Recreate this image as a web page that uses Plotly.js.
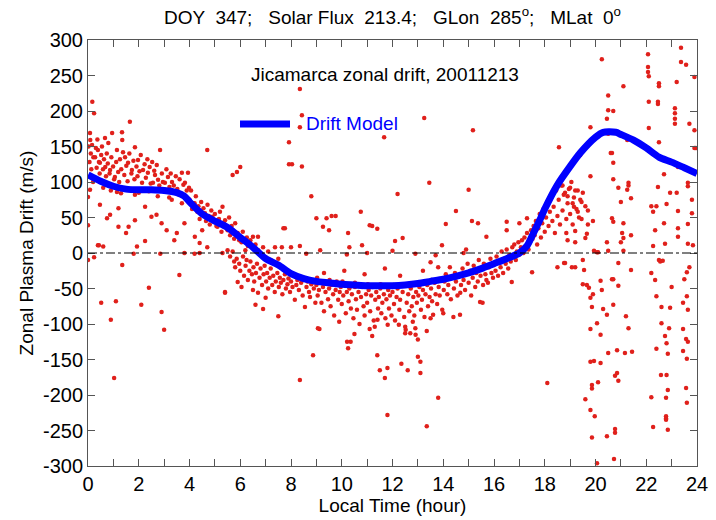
<!DOCTYPE html>
<html>
<head>
<meta charset="utf-8">
<script src="https://cdn.plot.ly/plotly-3.0.1.min.js"></script>
<style>html,body{margin:0;padding:0;background:#fff;}#chart{width:716px;height:520px;}</style>
</head>
<body>
<div id="chart"></div>
<script>
// Drift model curve
const modelHour = [0,0.5,1,1.5,2,2.5,3,3.5,3.8,4,4.5,5,5.5,6,6.5,7,7.5,8,8.5,9,9.5,10,10.5,11,11.5,12,12.5,13,13.5,14,14.5,15,15.5,16,16.5,17,17.3,17.5,17.8,18,18.5,19,19.4,20,20.3,20.8,21,21.5,22,22.5,23,23.5,24];
const modelDrift = [110,101,94,90,89,89,88,85,80,72,55,45,36,22,8,-8,-17,-29,-36,-40,-42,-44,-45,-46,-46,-46,-45,-43,-40,-37,-33,-28,-22,-15,-8,0,10,24,46,62,96,122,141,163,170,170,167,159,148,135,128,120,112];

// Observations, 0-4 h upper band
const hourA = [0.02,0.06,0.08,0.09,0.11,0.13,0.16,0.17,0.21,0.24,0.27,0.28,0.31,0.34,0.37,0.39,0.43,0.46,0.47,0.52,0.55,0.59,0.63,0.67,0.68,0.71,0.74,0.78,0.8,0.85,0.87,0.92,0.95,0.99,1.03,1.06,1.11,1.14,1.19,1.23,1.26,1.31,1.34,1.35,1.38,1.43,1.46,1.51,1.56,1.58,1.63,1.65,1.71,1.73,1.79,1.83,1.85,1.91,1.95,1.97,2.03,2.08,2.13,2.17,2.23,2.28,2.34,2.36,2.43,2.47,2.53,2.56,2.61,2.64,2.71,2.76,2.81,2.84,2.91,2.95,3.03,3.09,3.15,3.21,3.26,3.31,3.38,3.46,3.52,3.61,3.7,3.76,3.82,3.89,3.94,3.98];
const driftA = [150,128,169,159,140,118,152,213,135,197,105,135,148,120,160,145,128,112,127,138,150,118,132,162,121,108,140,126,155,112,117,135,169,122,104,107,128,145,114,100,132,118,170,159,142,110,135,123,101,127,140,185,112,117,130,104,149,122,108,131,115,138,99,117,125,106,132,113,121,98,128,99,116,110,124,103,95,145,112,100,99,118,107,93,112,100,95,108,90,104,113,96,99,88,113,92];

// 0-5.5 h near the curve and below
const hourB = [0.0,0.08,0.0,0.2,0.39,0.43,0.47,0.6,0.6,0.75,0.87,0.9,1.14,1.2,1.2,1.3,1.5,1.6,1.7,1.85,1.85,2.0,2.25,2.4,2.5,2.7,2.75,2.9,3.03,3.1,3.2,3.3,3.4,3.5,3.6,3.7,3.8,3.9,0.0,0.24,0.52,0.9,1.03,1.1,1.35,1.8,1.93,2.1,2.25,2.4,2.85,2.9,3.0,3.6,3.8,4.2,4.4,4.4,4.7,5.3,5.4,5.4,5.5];
const driftB = [79,89,39,100,11,11,68,9,92,49,54,88,86,37,63,84,28,37,90,82,46,85,65,87,51,54,80,42,89,32,78,75,18,28,82,70,42,76,-10,-6,-70,-94,-176,-68,-17,-1,9,-73,17,-49,-1,-83,-108,-31,0,-1,0,14,8,0,-56,-55,4];

// 4-8 h around the curve
const hourC = [4.0,4.06,4.1,4.16,4.2,4.21,4.25,4.31,4.35,4.4,4.46,4.5,4.52,4.55,4.61,4.65,4.7,4.71,4.76,4.8,4.86,4.9,4.96,5.0,5.06,5.1,5.16,5.2,5.26,5.3,5.36,5.4,5.46,5.5,5.56,5.6,5.66,5.7,5.7,5.76,5.8,5.87,5.9,5.96,6.0,6.05,6.1,6.2,6.26,6.3,6.4,6.5,6.56,6.6,6.7,6.71,6.8,6.9,7.0,7.1,7.2,7.37,7.5,7.64,7.76,7.7,7.92,7.92];
const driftC = [75,88,62,70,70,23,80,58,66,48,72,32,56,63,56,45,145,68,52,40,60,51,44,55,38,37,48,58,30,65,42,46,35,32,50,25,38,32,110,20,42,114,28,18,121,15,30,4,22,10,18,23,5,12,23,4,-2,8,-6,2,-10,8,-8,8,35,35,156,125];

// 5.5-9 h below the curve
const hourD = [5.6,5.7,5.76,5.8,5.86,5.9,5.96,6.0,6.05,6.11,6.15,6.21,6.25,6.3,6.36,6.4,6.46,6.5,6.52,6.55,6.6,6.62,6.66,6.7,6.76,6.8,6.86,6.9,6.92,6.96,7.0,7.02,7.06,7.1,7.16,7.2,7.26,7.3,7.36,7.4,7.46,7.5,7.52,7.56,7.6,7.66,7.7,7.76,7.8,7.86,7.9,7.96,8.0,8.06,8.1,8.15,8.21,8.25,8.31,8.35,8.4,8.46,8.5,8.55,8.61,8.65,8.71,8.75,8.8,8.87,8.9,8.96];
const driftD = [-5,2,-12,-20,-8,-41,-15,-25,-48,-5,-32,-18,-10,-38,-25,-12,-30,-52,-20,-40,-73,-28,-15,-56,-35,-22,-45,-79,-30,-18,-63,-40,-28,-50,-35,-22,-45,-32,-55,-40,-28,-89,-48,-35,-42,-58,-38,-30,-50,-44,-36,-55,-40,-48,-32,-66,-45,-38,-52,-179,-42,-60,-35,-76,-48,-40,-55,-62,-44,-144,-50,-70];

// scattered points above the curve, 8-18.6 h
const hourE = [8.35,8.43,8.35,8.04,8.43,8.8,9.0,9.26,9.4,9.6,9.76,9.5,10.25,10.75,11.2,11.4,11.67,12.2,13.25,13.45,14.1,14.5,15.0,15.17,15.13,15.37,15.7,16.5,16.5,17.0,17.3,18.56,11.1,12.4,12.1,8.35,9.15,10.3,10.8,11.0,12.0,12.9,13.5,13.7,13.95,14.8,14.9,10.2,8.6,8.0];
const driftE = [231,194,177,125,122,80,49,37,49,52,52,32,28,58,38,34,163,83,190,99,41,59,89,173,45,42,23,44,32,42,49,149,39,21,17,10,4,8,11,0,3,-1,-13,-3,11,0,5,-2,-1,8];

// 9-14 h dense band
const hourF = [9.0,9.05,9.06,9.1,9.12,9.15,9.2,9.26,9.3,9.36,9.4,9.46,9.5,9.56,9.6,9.66,9.7,9.76,9.8,9.86,9.9,9.92,9.96,10.0,10.06,10.1,10.16,10.2,10.21,10.25,10.27,10.3,10.35,10.36,10.4,10.46,10.5,10.52,10.56,10.6,10.66,10.7,10.76,10.8,10.86,10.9,10.96,11.0,11.06,11.1,11.12,11.16,11.2,11.22,11.26,11.3,11.32,11.36,11.4,11.41,11.43,11.46,11.5,11.52,11.56,11.6,11.66,11.7,11.72,11.76,11.8,11.8,11.81,11.83,11.86,11.9,11.96,12.0,12.06,12.1,12.16,12.2,12.25,12.27,12.3,12.35,12.4,12.46,12.5,12.5,12.52,12.56,12.6,12.62,12.66,12.7,12.72,12.76,12.8,12.82,12.86,12.9,12.91,12.93,12.96,13.0,13.0,13.02,13.06,13.1,13.1,13.12,13.16,13.2,13.26,13.3,13.35,13.35,13.37,13.4,13.46,13.5,13.52,13.56,13.6,13.66,13.7,13.76,13.8,13.82,13.86,13.9,13.96,14.0,14.02,9.03,9.52,10.03,10.52,11.03,11.53,12.03,12.53,13.03,13.53,9.3,10.1,10.9,11.7,12.3,13.2,13.8];
const driftF = [-45,-60,-106,-52,-107,-40,-70,-48,-82,-55,-42,-65,-50,-75,-45,-58,-88,-52,-40,-66,-97,-55,-48,-72,-60,-45,-85,-55,-125,-134,-68,-50,-125,-78,-58,-92,-114,-48,-65,-80,-55,-100,-62,-48,-75,-88,-58,-70,-52,-107,-82,-60,-117,-48,-95,-104,-66,-55,-144,-94,-78,-62,-165,-50,-85,-70,-58,-176,-92,-65,-162,-228,-101,-52,-78,-60,-88,-55,-72,-95,-62,-50,-101,-80,-66,-156,-55,-90,-104,-113,-108,-70,-165,-58,-82,-113,-50,-75,-97,-62,-88,-106,-115,-55,-70,-122,-146,-60,-48,-153,-169,-80,-66,-52,-90,-58,-110,-244,-45,-75,-62,-92,-50,-68,-87,-42,-58,-72,-204,-48,-60,-38,-80,-85,-52,-35,-38,-40,-42,-44,-44,-45,-44,-42,-38,-28,-25,-30,-22,-32,-25,-20];

// 14-17.6 h
const hourG = [14.05,14.1,14.16,14.2,14.26,14.3,14.36,14.4,14.42,14.46,14.5,14.56,14.6,14.66,14.67,14.7,14.76,14.8,14.86,14.9,14.96,15.0,15.06,15.1,15.16,15.2,15.26,15.3,15.36,15.4,15.45,15.47,15.5,15.55,15.57,15.6,15.66,15.7,15.76,15.8,15.86,15.9,15.96,16.0,16.06,16.1,16.16,16.2,16.26,16.3,16.36,16.4,16.46,16.5,16.56,16.6,16.66,16.7,16.72,16.76,16.8,16.86,16.9,16.96,17.0,17.06,17.1,17.16,17.2,17.26,17.3,17.36,17.4,17.46,17.5,17.52,17.56];
const driftG = [-40,-30,-58,-45,-20,-65,-35,-90,-50,-28,-40,-60,-32,-87,-56,-45,-22,-38,-52,-30,-15,-42,-25,-60,-35,-18,-48,-28,-40,-10,-69,-32,-22,-70,-45,-15,-30,-38,-42,-20,-8,-28,-35,-15,-25,-5,-32,-12,-20,2,-28,-8,-15,5,-22,-3,-12,-41,8,-5,12,-10,2,15,-2,8,18,0,22,10,28,5,15,32,-27,20,38];

// 17.6-21.5 h
const hourH = [17.6,17.65,17.7,17.75,17.8,17.85,17.9,17.95,18.0,18.05,18.1,18.1,18.15,18.2,18.25,18.3,18.35,18.4,18.45,18.5,18.5,18.55,18.6,18.65,18.7,18.75,18.76,18.8,18.85,18.85,18.9,18.9,18.95,19.0,19.05,19.07,19.1,19.15,19.2,19.2,19.2,19.25,19.3,19.35,19.4,19.45,19.5,19.5,19.55,19.6,19.6,19.66,19.66,19.7,19.74,19.8,19.8,19.8,19.8,19.8,19.8,19.86,19.86,19.86,19.86,19.9,19.9,19.94,19.94,19.97,20.06,20.06,20.06,20.1,20.1,20.2,20.2,20.2,20.25,20.25,20.3,20.45,20.45,20.45,20.45,20.5,20.5,20.5,20.5,20.5,20.6,20.65,20.65,20.65,20.7,20.7,20.7,20.7,20.7,20.7,20.73,20.77,20.77,20.77,20.85,20.85,20.9,20.9,20.9,20.9,21.0,21.0,21.05,21.1,21.1,21.1,21.1,21.16,21.2,21.25,21.25,21.3,21.3,21.3,21.4,21.4,21.4,21.44,18.6,18.7,18.8,18.9,19.0,19.1,19.15,19.2,19.3,19.4,19.45,19.5,19.6,19.7];
const driftH = [25,45,12,35,55,22,42,62,30,50,70,-183,38,58,80,45,65,28,88,-20,52,75,40,95,60,82,-14,-14,28,48,18,70,90,55,100,-20,40,78,31,15,-20,62,88,50,138,72,-10,-44,-24,21,-206,27,-45,60,-49,108,177,-63,-107,-153,-221,-76,-186,-191,-260,45,-58,3,-152,-230,1,-99,-296,1,-182,-39,-115,-155,273,-52,-79,189,15,-87,-258,222,201,168,3,-141,141,141,49,-37,200,127,104,44,-73,-37,-290,-173,-248,-253,-137,-169,92,-14,-46,-180,72,15,28,235,42,21,3,-141,-89,159,89,99,95,-106,77,25,-24,-139,103,95,85,80,92,70,65,88,58,75,48,85,66,40];

// 21.5-24 h
const hourI = [22.07,22.07,22.07,22.1,22.1,22.1,22.2,22.2,22.2,22.27,22.27,22.27,22.35,22.35,22.4,22.4,22.4,22.46,22.46,22.46,22.5,22.5,22.5,22.5,22.55,22.58,22.6,22.6,22.65,22.7,22.7,22.74,22.74,22.78,22.78,22.78,22.78,22.8,22.8,22.8,22.85,22.85,22.85,22.85,22.9,22.94,22.94,23.0,23.13,23.13,23.13,23.13,23.2,23.2,23.25,23.25,23.25,23.25,23.37,23.37,23.45,23.45,23.45,23.5,23.57,23.57,23.57,23.6,23.6,23.6,23.6,23.64,23.64,23.64,23.64,23.64,23.64,23.7,23.7,23.8,23.8,23.84,23.9,23.9,23.9,23.95];
const driftI = [280,262,255,249,213,176,66,-28,-203,58,10,-245,32,-38,66,-61,-135,213,210,93,239,235,156,-10,-12,-172,-76,-99,-11,111,42,13,-117,-204,-230,-233,-235,69,-127,-172,131,-142,-193,-249,-106,85,-77,-48,204,197,189,182,85,241,121,59,35,23,289,269,-70,-107,-138,-37,265,-121,-190,-27,-61,-149,-211,99,94,41,13,-80,-125,182,-20,75,56,11,248,173,148,148];

const obsHour = [].concat(hourA, hourB, hourC, hourD, hourE, hourF, hourG, hourH, hourI);
const obsDrift = [].concat(driftA, driftB, driftC, driftD, driftE, driftF, driftG, driftH, driftI);

const xTicks = [0,2,4,6,8,10,12,14,16,18,20,22,24];
const yTicks = [-300,-250,-200,-150,-100,-50,0,50,100,150,200,250,300];
const legendLabel = 'Drift Model';

const fontFam = '"Liberation Sans", Arial, sans-serif';
const axisCol = '#555';

const traces = [
  {
    x: obsHour, y: obsDrift, type: 'scatter', mode: 'markers',
    marker: {color: '#e0201b', size: 4.5, symbol: 'circle'},
    showlegend: false, hoverinfo: 'skip'
  },
  {
    x: modelHour, y: modelDrift, type: 'scatter', mode: 'lines',
    line: {color: '#0000ff', width: 7, shape: 'spline', smoothing: 0.7},
    name: legendLabel, showlegend: false
  }
];

const layout = {
  width: 716, height: 520,
  margin: {l: 88, r: 19, t: 40, b: 54},
  paper_bgcolor: '#fff', plot_bgcolor: '#fff',
  font: {family: fontFam, size: 20, color: '#000'},
  showlegend: false,
  title: {
    text: 'DOY  347;   Solar Flux  213.4;   GLon  285<sup>o</sup>;   MLat  0<sup>o</sup>',
    font: {family: fontFam, size: 19, color: '#000'},
    xref: 'paper', x: 0.5, xanchor: 'center', yref: 'container', y: 0.967, yanchor: 'middle'
  },
  xaxis: {
    range: [0, 24], tickvals: xTicks, ticktext: xTicks.map(String),
    ticks: 'inside', ticklen: 7, tickcolor: axisCol, showgrid: false, zeroline: false,
    showline: true, linecolor: axisCol, linewidth: 1, mirror: 'ticks',
    minor: {dtick: 1, ticks: 'inside', ticklen: 7, tickcolor: axisCol, showgrid: false},
    tickfont: {size: 20}, fixedrange: true,
    title: {text: 'Local Time (hour)', font: {size: 19}, standoff: 2}
  },
  yaxis: {
    range: [-300, 300], tickvals: yTicks, ticktext: yTicks.map(String),
    ticks: 'inside', ticklen: 7, tickcolor: axisCol, showgrid: false, zeroline: false,
    showline: true, linecolor: axisCol, linewidth: 1, mirror: 'ticks',
    tickfont: {size: 20}, fixedrange: true,
    title: {text: 'Zonal Plasma Drift (m/s)', font: {size: 19}, standoff: 4}
  },
  shapes: [
    {type: 'line', xref: 'paper', yref: 'y', x0: 0, x1: 1, y0: 0, y1: 0,
     line: {color: '#000', width: 1, dash: 'dashdot'}},
    {type: 'line', xref: 'paper', yref: 'paper', x0: 0.2496, x1: 0.3317, y0: 0.803, y1: 0.803,
     line: {color: '#0000ff', width: 7}}
  ],
  annotations: [
    {text: 'Jicamarca zonal drift, 20011213', xref: 'x', yref: 'y',
     x: 11.7, y: 251, showarrow: false,
     font: {family: fontFam, size: 19, color: '#000'}},
    {text: legendLabel, xref: 'paper', yref: 'paper', x: 0.354, y: 0.803,
     xanchor: 'left', yanchor: 'middle', showarrow: false,
     font: {family: fontFam, size: 19, color: '#0000ff'}}
  ]
};

Plotly.newPlot('chart', traces, layout, {displayModeBar: false, staticPlot: true});
</script>
</body>
</html>
